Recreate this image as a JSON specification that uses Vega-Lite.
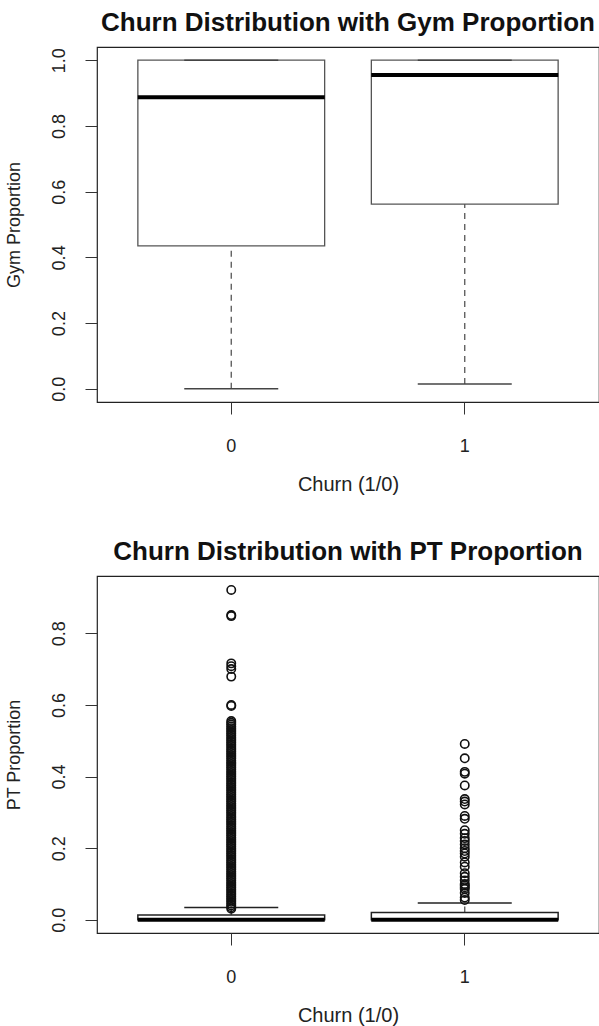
{
  "$schema": "https://vega.github.io/schema/vega-lite/v6.json",
  "background": "white",
  "padding": {"left": 4, "top": 9, "right": 0, "bottom": 0},
  "spacing": 43,
  "config": {
    "font": "Liberation Sans",
    "view": {"stroke": "#222", "strokeWidth": 1.2},
    "axis": {"domain": false, "grid": false, "tickColor": "#333", "tickSize": 12, "labelFontSize": 18, "titleFontSize": 18, "labelColor": "#222", "titleColor": "#222", "titleFontWeight": "normal", "labelFont": "Liberation Sans", "titleFont": "Liberation Sans"},
    "title": {"font": "Liberation Sans", "fontSize": 26, "fontWeight": "bold", "color": "#111", "anchor": "middle", "offset": 11},
    "tick": {"opacity": 1},
    "point": {"opacity": 1}
  },
  "datasets": {
    "gymbox": [
      {"churn": "0", "lo": 0.0, "q1": 0.435, "med": 0.887, "q3": 1.0, "hi": 1.0},
      {"churn": "1", "lo": 0.015, "q1": 0.562, "med": 0.955, "q3": 1.0, "hi": 1.0}
    ],
    "ptbox": [
      {"churn": "0", "lo": 0.0, "q1": 0.0, "med": 0.0, "q3": 0.013, "hi": 0.034},
      {"churn": "1", "lo": 0.0, "q1": 0.0, "med": 0.0, "q3": 0.02, "hi": 0.047}
    ],
    "ptout": [
      {"churn": "0", "v": 0.921}, {"churn": "0", "v": 0.851}, {"churn": "0", "v": 0.848},
      {"churn": "0", "v": 0.716}, {"churn": "0", "v": 0.708}, {"churn": "0", "v": 0.700},
      {"churn": "0", "v": 0.679}, {"churn": "0", "v": 0.600}, {"churn": "0", "v": 0.597},
      {"churn": "0", "v": 0.555}, {"churn": "0", "v": 0.550}, {"churn": "0", "v": 0.545},
      {"churn": "0", "v": 0.540}, {"churn": "0", "v": 0.535}, {"churn": "0", "v": 0.530},
      {"churn": "0", "v": 0.525}, {"churn": "0", "v": 0.520}, {"churn": "0", "v": 0.515},
      {"churn": "0", "v": 0.510}, {"churn": "0", "v": 0.505}, {"churn": "0", "v": 0.500},
      {"churn": "0", "v": 0.495}, {"churn": "0", "v": 0.490}, {"churn": "0", "v": 0.485},
      {"churn": "0", "v": 0.480}, {"churn": "0", "v": 0.475}, {"churn": "0", "v": 0.470},
      {"churn": "0", "v": 0.465}, {"churn": "0", "v": 0.460}, {"churn": "0", "v": 0.455},
      {"churn": "0", "v": 0.450}, {"churn": "0", "v": 0.445}, {"churn": "0", "v": 0.440},
      {"churn": "0", "v": 0.435}, {"churn": "0", "v": 0.430}, {"churn": "0", "v": 0.425},
      {"churn": "0", "v": 0.420}, {"churn": "0", "v": 0.415}, {"churn": "0", "v": 0.410},
      {"churn": "0", "v": 0.405}, {"churn": "0", "v": 0.400}, {"churn": "0", "v": 0.395},
      {"churn": "0", "v": 0.390}, {"churn": "0", "v": 0.385}, {"churn": "0", "v": 0.380},
      {"churn": "0", "v": 0.375}, {"churn": "0", "v": 0.370}, {"churn": "0", "v": 0.365},
      {"churn": "0", "v": 0.360}, {"churn": "0", "v": 0.355}, {"churn": "0", "v": 0.350},
      {"churn": "0", "v": 0.345}, {"churn": "0", "v": 0.340}, {"churn": "0", "v": 0.335},
      {"churn": "0", "v": 0.330}, {"churn": "0", "v": 0.325}, {"churn": "0", "v": 0.320},
      {"churn": "0", "v": 0.315}, {"churn": "0", "v": 0.310}, {"churn": "0", "v": 0.305},
      {"churn": "0", "v": 0.300}, {"churn": "0", "v": 0.295}, {"churn": "0", "v": 0.290},
      {"churn": "0", "v": 0.285}, {"churn": "0", "v": 0.280}, {"churn": "0", "v": 0.275},
      {"churn": "0", "v": 0.270}, {"churn": "0", "v": 0.265}, {"churn": "0", "v": 0.260},
      {"churn": "0", "v": 0.255}, {"churn": "0", "v": 0.250}, {"churn": "0", "v": 0.245},
      {"churn": "0", "v": 0.240}, {"churn": "0", "v": 0.235}, {"churn": "0", "v": 0.230},
      {"churn": "0", "v": 0.225}, {"churn": "0", "v": 0.220}, {"churn": "0", "v": 0.215},
      {"churn": "0", "v": 0.210}, {"churn": "0", "v": 0.205}, {"churn": "0", "v": 0.200},
      {"churn": "0", "v": 0.195}, {"churn": "0", "v": 0.190}, {"churn": "0", "v": 0.185},
      {"churn": "0", "v": 0.180}, {"churn": "0", "v": 0.175}, {"churn": "0", "v": 0.170},
      {"churn": "0", "v": 0.165}, {"churn": "0", "v": 0.160}, {"churn": "0", "v": 0.155},
      {"churn": "0", "v": 0.150}, {"churn": "0", "v": 0.145}, {"churn": "0", "v": 0.140},
      {"churn": "0", "v": 0.135}, {"churn": "0", "v": 0.130}, {"churn": "0", "v": 0.125},
      {"churn": "0", "v": 0.120}, {"churn": "0", "v": 0.115}, {"churn": "0", "v": 0.110},
      {"churn": "0", "v": 0.105}, {"churn": "0", "v": 0.100}, {"churn": "0", "v": 0.095},
      {"churn": "0", "v": 0.090}, {"churn": "0", "v": 0.085}, {"churn": "0", "v": 0.080},
      {"churn": "0", "v": 0.075}, {"churn": "0", "v": 0.070}, {"churn": "0", "v": 0.065},
      {"churn": "0", "v": 0.060}, {"churn": "0", "v": 0.055}, {"churn": "0", "v": 0.050},
      {"churn": "0", "v": 0.045}, {"churn": "0", "v": 0.040}, {"churn": "0", "v": 0.035},
      {"churn": "0", "v": 0.031},
      {"churn": "1", "v": 0.491}, {"churn": "1", "v": 0.451}, {"churn": "1", "v": 0.413},
      {"churn": "1", "v": 0.408}, {"churn": "1", "v": 0.375}, {"churn": "1", "v": 0.337},
      {"churn": "1", "v": 0.330}, {"churn": "1", "v": 0.322}, {"churn": "1", "v": 0.290},
      {"churn": "1", "v": 0.282}, {"churn": "1", "v": 0.250}, {"churn": "1", "v": 0.240},
      {"churn": "1", "v": 0.228}, {"churn": "1", "v": 0.220}, {"churn": "1", "v": 0.210},
      {"churn": "1", "v": 0.200}, {"churn": "1", "v": 0.192}, {"churn": "1", "v": 0.185},
      {"churn": "1", "v": 0.176}, {"churn": "1", "v": 0.160}, {"churn": "1", "v": 0.148},
      {"churn": "1", "v": 0.130}, {"churn": "1", "v": 0.120}, {"churn": "1", "v": 0.110},
      {"churn": "1", "v": 0.100}, {"churn": "1", "v": 0.096}, {"churn": "1", "v": 0.091},
      {"churn": "1", "v": 0.086}, {"churn": "1", "v": 0.075}, {"churn": "1", "v": 0.062},
      {"churn": "1", "v": 0.055}
    ]
  },
  "vconcat": [
    {
      "width": 502,
      "height": 355,
      "title": {"text": "Churn Distribution with Gym Proportion"},
      "data": {"name": "gymbox"},
      "encoding": {
        "x": {"field": "churn", "type": "nominal", "scale": {"paddingInner": 0, "paddingOuter": 0.075}, "axis": {"title": "Churn (1/0)", "labelAngle": 0, "labelPadding": 23, "titlePadding": 19, "titleFontSize": 20}}
      },
      "layer": [
        {
          "mark": {"type": "rule", "strokeDash": [6, 5], "color": "#555", "strokeWidth": 1.3},
          "encoding": {
            "y": {"field": "lo", "type": "quantitative", "scale": {"domain": [-0.04, 1.04], "nice": false, "zero": false}, "axis": {"title": "Gym Proportion", "values": [0, 0.2, 0.4, 0.6, 0.8, 1.0], "format": ".1f", "labelAngle": -90, "labelAlign": "center", "labelBaseline": "bottom", "labelPadding": 17, "titlePadding": 27}},
            "y2": {"field": "q1"}
          }
        },
        {
          "mark": {"type": "bar", "width": {"band": 0.8}, "fill": "white", "stroke": "#555", "strokeWidth": 1.3},
          "encoding": {"y": {"field": "q1", "type": "quantitative"}, "y2": {"field": "q3"}}
        },
        {
          "mark": {"type": "tick", "size": 94, "thickness": 1.5, "color": "#444"},
          "encoding": {"y": {"field": "lo", "type": "quantitative"}}
        },
        {
          "mark": {"type": "tick", "size": 94, "thickness": 1.5, "color": "#444"},
          "encoding": {"y": {"field": "hi", "type": "quantitative"}}
        },
        {
          "mark": {"type": "tick", "size": 187, "thickness": 4, "color": "black"},
          "encoding": {"y": {"field": "med", "type": "quantitative"}}
        }
      ]
    },
    {
      "width": 502,
      "height": 357,
      "title": {"text": "Churn Distribution with PT Proportion"},
      "encoding": {
        "x": {"field": "churn", "type": "nominal", "scale": {"paddingInner": 0, "paddingOuter": 0.075}, "axis": {"title": "Churn (1/0)", "labelAngle": 0, "labelPadding": 23, "titlePadding": 19, "titleFontSize": 20}}
      },
      "layer": [
        {
          "data": {"name": "ptbox"},
          "mark": {"type": "rule", "strokeDash": [6, 5], "color": "#555", "strokeWidth": 1.3},
          "encoding": {
            "y": {"field": "q3", "type": "quantitative", "scale": {"domain": [-0.037, 0.96], "nice": false, "zero": false}, "axis": {"title": "PT Proportion", "values": [0, 0.2, 0.4, 0.6, 0.8], "format": ".1f", "labelAngle": -90, "labelAlign": "center", "labelBaseline": "bottom", "labelPadding": 17, "titlePadding": 27}},
            "y2": {"field": "hi"}
          }
        },
        {
          "data": {"name": "ptbox"},
          "mark": {"type": "bar", "width": {"band": 0.8}, "fill": "white", "stroke": "#222", "strokeWidth": 1.5},
          "encoding": {"y": {"field": "q1", "type": "quantitative"}, "y2": {"field": "q3"}}
        },
        {
          "data": {"name": "ptbox"},
          "mark": {"type": "tick", "size": 94, "thickness": 1.5, "color": "#222"},
          "encoding": {"y": {"field": "hi", "type": "quantitative"}}
        },
        {
          "data": {"name": "ptbox"},
          "mark": {"type": "tick", "size": 187, "thickness": 4, "color": "black"},
          "encoding": {"y": {"field": "med", "type": "quantitative"}}
        },
        {
          "data": {"name": "ptout"},
          "mark": {"type": "point", "shape": "circle", "filled": false, "size": 70, "stroke": "#111", "strokeWidth": 1.6},
          "encoding": {"y": {"field": "v", "type": "quantitative"}}
        }
      ]
    }
  ]
}
